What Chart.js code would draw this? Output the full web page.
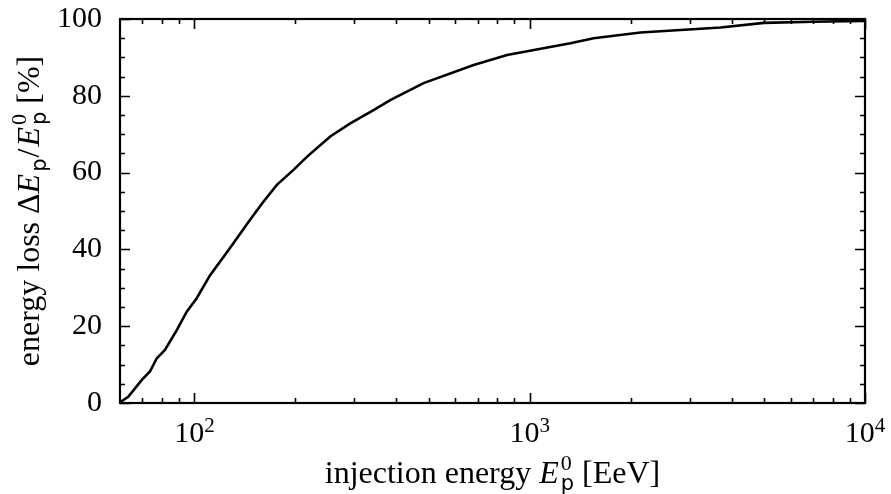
<!DOCTYPE html>
<html>
<head>
<meta charset="utf-8">
<script src="https://cdn.jsdelivr.net/npm/chart.js@4"></script>
<style>
html,body{margin:0;padding:0;background:#fff;}
canvas{display:block;}
</style>
</head>
<body>
<canvas id="c" width="891" height="494"></canvas>
<script>
// Injection energy (EeV) and energy loss (%)
const energy = [60, 63.5, 69.7, 73.7, 77.2, 81.7, 88.6, 94.9, 101.6, 111.4, 126.3, 146.6, 160.6, 176.2, 197.5, 216.5, 254.2, 291.7, 342.2, 383.8, 482.5, 680.6, 856, 1322, 1552, 2140, 3708, 4994, 7000, 10000];
const loss = [0.2, 1.6, 6.0, 8.2, 11.6, 13.8, 19.0, 23.8, 27.3, 33.3, 39.8, 47.7, 52.4, 56.8, 60.7, 64.1, 69.4, 72.8, 76.3, 78.9, 83.3, 88.0, 90.6, 93.7, 95.0, 96.5, 97.8, 99.0, 99.3, 99.5];

const xMajorTicks = [100, 1000, 10000];
const xTickExponents = ['2', '3', '4'];
const xMinorTicks = [70, 80, 90, 200, 300, 400, 500, 600, 700, 800, 900, 2000, 3000, 4000, 5000, 6000, 7000, 8000, 9000];
const yMajorTicks = [0, 20, 40, 60, 80, 100];
const yMinorTicks = [5, 10, 15, 25, 30, 35, 45, 50, 55, 65, 70, 75, 85, 90, 95];

const SERIF = '"Liberation Serif", "Times New Roman", serif';
const SANS = '"DejaVu Sans", sans-serif';
const TICK_MAIN = 30, TICK_SMALL = 21;
const TITLE_MAIN = 32, TITLE_SMALL = 22;
const F = s => s + 'px ' + SERIF;
const FI = s => 'italic ' + s + 'px ' + SERIF;
const FSans = s => s + 'px ' + SANS;

function richWidth(ctx, segs) {
  let w = 0;
  for (const s of segs) {
    if (s.sub !== undefined) {
      ctx.font = FSans(TITLE_SMALL - 1); const a = ctx.measureText(s.sub).width;
      ctx.font = F(TITLE_SMALL); const b = s.sup ? ctx.measureText(s.sup).width : 0;
      w += Math.max(a, b) + (s.post || 0);
    } else {
      ctx.font = s.f; w += ctx.measureText(s.t).width + (s.post || 0);
    }
  }
  return w;
}
function drawRich(ctx, segs, x, y) {
  const w = richWidth(ctx, segs);
  let cx = x - w / 2;
  ctx.textAlign = 'left';
  ctx.textBaseline = 'alphabetic';
  ctx.fillStyle = '#000';
  for (const s of segs) {
    if (s.sub !== undefined) {
      ctx.font = FSans(TITLE_SMALL - 1); const a = ctx.measureText(s.sub).width;
      ctx.fillText(s.sub, cx, y + 7);
      let b = 0;
      if (s.sup) { ctx.font = F(TITLE_SMALL); b = ctx.measureText(s.sup).width; ctx.fillText(s.sup, cx, y - 13); }
      cx += Math.max(a, b) + (s.post || 0);
    } else {
      ctx.font = s.f; ctx.fillText(s.t, cx, y);
      cx += ctx.measureText(s.t).width + (s.post || 0);
    }
  }
}

const framePlugin = {
  id: 'frame',
  afterDraw(chart) {
    const ctx = chart.ctx;
    const a = chart.chartArea;
    const xs = chart.scales.x, ys = chart.scales.y;
    ctx.save();
    ctx.strokeStyle = '#000';
    ctx.lineWidth = 1.6;
    ctx.beginPath();
    const tx = (v, len) => {
      const p = Math.round(xs.getPixelForValue(v)) + 0.5;
      ctx.moveTo(p, a.bottom); ctx.lineTo(p, a.bottom - len);
      ctx.moveTo(p, a.top); ctx.lineTo(p, a.top + len);
    };
    const ty = (v, len) => {
      const p = Math.round(ys.getPixelForValue(v)) + 0.5;
      ctx.moveTo(a.left, p); ctx.lineTo(a.left + len, p);
      ctx.moveTo(a.right, p); ctx.lineTo(a.right - len, p);
    };
    xMajorTicks.forEach(v => tx(v, 10));
    xMinorTicks.forEach(v => tx(v, 5));
    yMajorTicks.forEach(v => ty(v, 10));
    yMinorTicks.forEach(v => ty(v, 5));
    ctx.stroke();
    ctx.lineWidth = 2.2;
    ctx.strokeRect(a.left, a.top, a.right - a.left, a.bottom - a.top);
    // x tick labels 10^n
    xMajorTicks.forEach((v, i) => {
      const p = xs.getPixelForValue(v);
      ctx.font = F(TICK_MAIN); const w1 = ctx.measureText('10').width;
      ctx.font = F(TICK_SMALL); const w2 = ctx.measureText(xTickExponents[i]).width;
      const left = p - (w1 + w2) / 2;
      ctx.fillStyle = '#000'; ctx.textAlign = 'left'; ctx.textBaseline = 'alphabetic';
      ctx.font = F(TICK_MAIN); ctx.fillText('10', left, 442);
      ctx.font = F(TICK_SMALL); ctx.fillText(xTickExponents[i], left + w1, 432);
    });
    // x axis title
    drawRich(ctx, [
      {t: 'injection energy ', f: F(TITLE_MAIN)},
      {t: 'E', f: FI(TITLE_MAIN), post: 2},
      {sub: 'p', sup: '0'},
      {t: ' [EeV]', f: F(TITLE_MAIN)}
    ], (a.left + a.right) / 2, 483);
    // y axis title
    ctx.save();
    ctx.translate(39, (a.top + a.bottom) / 2);
    ctx.rotate(-Math.PI / 2);
    drawRich(ctx, [
      {t: 'energy loss \u0394', f: F(TITLE_MAIN)},
      {t: 'E', f: FI(TITLE_MAIN), post: 2},
      {sub: 'p', post: 1},
      {t: '/', f: F(TITLE_MAIN), post: 2},
      {t: 'E', f: FI(TITLE_MAIN), post: 2},
      {sub: 'p', sup: '0'},
      {t: ' [%]', f: F(TITLE_MAIN)}
    ], 0, 0);
    ctx.restore();
    ctx.restore();
  }
};

const points = energy.map((e, i) => ({x: e, y: loss[i]}));

new Chart(document.getElementById('c'), {
  type: 'line',
  data: {
    datasets: [{
      data: points,
      borderColor: '#000',
      borderWidth: 2.6,
      pointRadius: 0,
      tension: 0,
      fill: false
    }]
  },
  options: {
    responsive: false,
    animation: false,
    devicePixelRatio: 1,
    layout: {padding: {top: 19, right: 26, left: 0, bottom: 0}},
    plugins: {legend: {display: false}, tooltip: {enabled: false}},
    scales: {
      x: {
        type: 'logarithmic',
        min: 60, max: 10000,
        afterBuildTicks: s => { s.ticks = xMajorTicks.map(v => ({value: v})); },
        afterFit: s => { s.height = 91; s.paddingLeft = 0; s.paddingRight = 0; },
        grid: {display: false},
        border: {display: false},
        ticks: {display: false}
      },
      y: {
        type: 'linear',
        min: 0, max: 100,
        afterBuildTicks: s => { s.ticks = yMajorTicks.map(v => ({value: v})); },
        afterFit: s => { s.width = 120; s.paddingTop = 0; s.paddingBottom = 0; },
        grid: {display: false},
        border: {display: false},
        ticks: {
          color: '#000',
          padding: 10,
          font: {family: SERIF, size: TICK_MAIN}
        }
      }
    }
  },
  plugins: [framePlugin]
});
</script>
</body>
</html>
